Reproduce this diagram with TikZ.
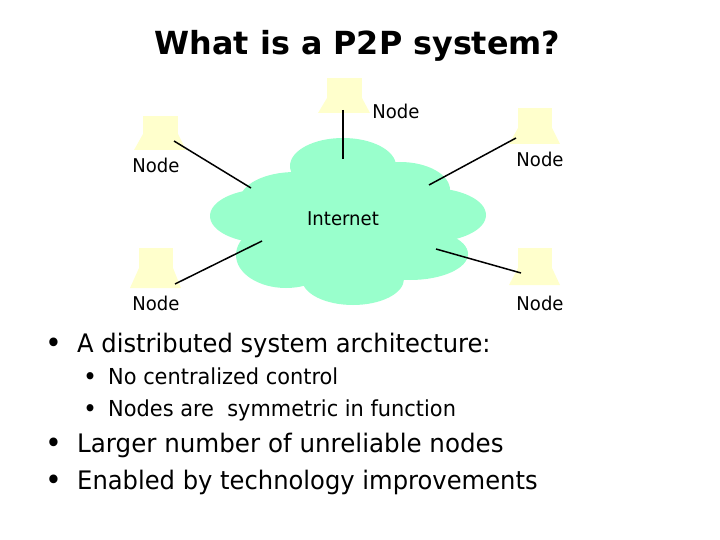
\documentclass[tikz,border=0pt]{standalone}
\usepackage{fontspec}
\setmainfont{DejaVu Sans}[FakeStretch=0.95]
\newfontfamily\titlefont{DejaVu Sans}[FakeStretch=1.0]
\newfontfamily\widerfont{DejaVu Sans}[FakeStretch=0.964]
\definecolor{cloudc}{RGB}{153,255,204}
\definecolor{pcc}{RGB}{255,255,204}
\tikzset{
  cloudpart/.style={fill=cloudc,draw=none},
  pcpart/.style={fill=pcc,draw=none},
  link/.style={line width=1.5pt,black},
  lbl/.style={font=\fontsize{19}{22}\selectfont,inner sep=0pt},
  big/.style={font=\fontsize{25.5}{30}\selectfont,anchor=base west,inner sep=0pt},
  small/.style={font=\fontsize{22}{26}\selectfont,anchor=base west,inner sep=0pt},
  bigmark/.style={font=\fontsize{30}{30}\selectfont,anchor=base west,inner sep=0pt},
  smallmark/.style={font=\fontsize{25}{26}\selectfont,anchor=base west,inner sep=0pt},
}
\newcommand{\pcshape}[5]{%
  \fill[pcpart] (#1,#3) rectangle (#2,#4);
  \fill[pcpart] (#1,#4) -- (#2,#4) -- (#2+8,#5) -- (#1-9,#5) -- cycle;
}
\begin{document}
\begin{tikzpicture}[x=1pt,y=-1pt]
\useasboundingbox (0,0) rectangle (720,540);
% cloud
\fill[cloudpart] (343,166) ellipse [x radius=53,y radius=28];
\fill[cloudpart] (400,190) ellipse [x radius=50,y radius=28];
\fill[cloudpart] (430,215) ellipse [x radius=56,y radius=27];
\fill[cloudpart] (410,254) ellipse [x radius=58,y radius=26];
\fill[cloudpart] (353,279) ellipse [x radius=51,y radius=26];
\fill[cloudpart] (286,255) ellipse [x radius=50,y radius=33];
\fill[cloudpart] (265,216) ellipse [x radius=55,y radius=27];
\fill[cloudpart] (295,200) ellipse [x radius=55,y radius=28];
\fill[cloudpart] (345,225) ellipse [x radius=90,y radius=55];
% computers
\pcshape{327}{362}{78}{98}{113}
\pcshape{143}{178}{116}{134}{150}
\pcshape{518}{552}{108}{128}{144}
\pcshape{518}{552}{248}{268}{285}
\pcshape{139}{173}{248}{268}{288}
% named ends
\coordinate (pt) at (343,110); \coordinate (ct) at (343,159);
\coordinate (pl) at (174,141); \coordinate (cl) at (251,188);
\coordinate (pr) at (516,138); \coordinate (cr) at (429,185);
\coordinate (pbr) at (521,273); \coordinate (cbr) at (436,249);
\coordinate (pbl) at (175,284); \coordinate (cbl) at (262,241);
\draw[link] (pt) -- (ct);
\draw[link] (pl) -- (cl);
\draw[link] (pr) -- (cr);
\draw[link] (pbr) -- (cbr);
\draw[link] (pbl) -- (cbl);
% labels
\node[lbl] (n1) at (396,111) {Node};
\node[lbl] (n2) at (156,165) {Node};
\node[lbl] (n3) at (540,159) {Node};
\node[lbl] (n4) at (156,303) {Node};
\node[lbl] (n5) at (540,303) {Node};
\node[lbl] (inet) at (343,219) {Internet};
\node[font=\titlefont\fontsize{31.8}{38}\bfseries,anchor=base,inner sep=0pt] (title) at (357.5,55) {What is a P2P system?};
\node[bigmark] (b1m) at (45,353) {•};
\node[big] (b1) at (77,352) {A distributed system architecture:};
\node[smallmark] (s1m) at (83,385) {•};
\node[small] (s1) at (108,384) {No centralized control};
\node[smallmark] (s2m) at (83,417) {•};
\node[small] (s2) at (108,416) {Nodes are\ \ symmetric in function};
\node[bigmark] (b2m) at (45,453) {•};
\node[big] (b2) at (77,452) {\widerfont Larger number of unreliable nodes};
\node[bigmark] (b3m) at (45,490) {•};
\node[big] (b3) at (77,489) {Enabled by technology improvements};
\end{tikzpicture}
\end{document}
